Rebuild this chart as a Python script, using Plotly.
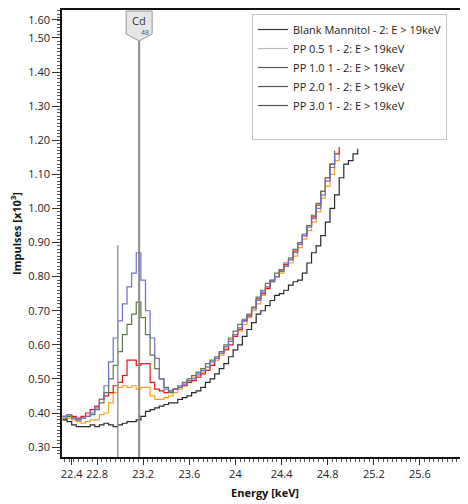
import numpy as np
import plotly.graph_objects as go

# ---------------- data ----------------
E_START = 22.50
E_STEP = 0.04

blank_mannitol = [0.38, 0.375, 0.365, 0.36, 0.36, 0.36, 0.365, 0.36, 0.365, 0.37,
                  0.365, 0.36, 0.365, 0.37, 0.375, 0.375, 0.38, 0.39, 0.405, 0.41,
                  0.415, 0.42, 0.425, 0.43, 0.43, 0.44, 0.445, 0.45, 0.46, 0.465,
                  0.475, 0.49, 0.50, 0.515, 0.53, 0.545, 0.565, 0.585, 0.60, 0.625,
                  0.645, 0.665, 0.69, 0.70, 0.715, 0.73, 0.745, 0.75, 0.76, 0.775,
                  0.785, 0.79, 0.81, 0.84, 0.87, 0.89, 0.92, 0.96, 1.00, 1.04,
                  1.09, 1.13, 1.14, 1.16, 1.175]

pp_05 = [0.38, 0.385, 0.38, 0.375, 0.37, 0.375, 0.38, 0.38, 0.395, 0.40,
         0.43, 0.46, 0.475, 0.48, 0.475, 0.48, 0.47, 0.475, 0.475, 0.45,
         0.44, 0.44, 0.445, 0.45, 0.46,
         0.47, 0.48, 0.49, 0.505, 0.51, 0.52, 0.535, 0.54, 0.555, 0.57,
         0.59, 0.615, 0.63, 0.64, 0.66, 0.68, 0.70, 0.72, 0.745, 0.77,
         0.79, 0.80, 0.81, 0.83, 0.84, 0.86, 0.885, 0.91, 0.935, 0.96,
         0.99, 1.03, 1.065, 1.10, 1.14, 1.17]

pp_10 = [0.39, 0.395, 0.39, 0.385, 0.39, 0.40, 0.41, 0.42, 0.44, 0.45,
         0.46, 0.48, 0.49, 0.51, 0.555, 0.555, 0.54, 0.545, 0.545, 0.49,
         0.47, 0.465, 0.46, 0.465, 0.47,
         0.475, 0.48, 0.49, 0.495, 0.505, 0.515, 0.525, 0.54, 0.56, 0.575,
         0.585, 0.60, 0.625, 0.645, 0.67, 0.685, 0.71, 0.735, 0.75, 0.765,
         0.785, 0.80, 0.82, 0.835, 0.85, 0.875, 0.895, 0.92, 0.95, 0.975,
         1.01, 1.05, 1.09, 1.13, 1.16, 1.18]

pp_20 = [0.385, 0.39, 0.385, 0.38, 0.385, 0.39, 0.395, 0.41, 0.43, 0.46,
         0.50, 0.54, 0.58, 0.63, 0.66, 0.69, 0.725, 0.68, 0.63, 0.57,
         0.53, 0.50, 0.475, 0.46, 0.47,
         0.48, 0.49, 0.50, 0.51, 0.52, 0.53, 0.545, 0.555, 0.565, 0.58,
         0.60, 0.62, 0.64, 0.66, 0.675, 0.69, 0.71, 0.74, 0.76, 0.78,
         0.79, 0.81, 0.82, 0.84, 0.855, 0.88, 0.90, 0.925, 0.95, 0.98,
         1.015, 1.05, 1.09, 1.13, 1.17]

pp_30 = [0.39, 0.395, 0.385, 0.38, 0.385, 0.39, 0.40, 0.415, 0.44, 0.48,
         0.55, 0.62, 0.67, 0.72, 0.77, 0.81, 0.87, 0.79, 0.70, 0.62,
         0.56, 0.50, 0.47, 0.465, 0.47,
         0.475, 0.485, 0.495, 0.50, 0.515, 0.525, 0.535, 0.55, 0.56, 0.575,
         0.595, 0.61, 0.63, 0.65, 0.67, 0.685, 0.705, 0.73, 0.755, 0.77,
         0.785, 0.80, 0.815, 0.83, 0.85, 0.87, 0.895, 0.92, 0.945, 0.97,
         1.00, 1.04, 1.08, 1.12, 1.16]

series_names = ["Blank Mannitol - 2: E > 19keV", "PP 0.5 1 - 2: E > 19keV",
                "PP 1.0 1 - 2: E > 19keV", "PP 2.0 1 - 2: E > 19keV",
                "PP 3.0 1 - 2: E > 19keV"]
series_values = [blank_mannitol, pp_05, pp_10, pp_20, pp_30]
series_colors = ["#2a2a2a", "#f5a21b", "#e8141c", "#5f7a45", "#6f6fcf"]
legend_colors = ["#3a3a3a", "#b8b8b8", "#555555", "#555555", "#555555"]

cd_energy = 23.165
cd_label = "Cd"
cd_z = "48"
marker2_energy = 22.98
marker2_height = 0.892

x_ticks = [22.58, 22.8, 23.2, 23.6, 24.0, 24.4, 24.8, 25.2, 25.6, 26.0]
x_ticktext = ["22.4", "22.8", "23.2", "23.6", "24", "24.4", "24.8", "25.2", "25.6", "26"]
y_ticks = [0.30, 0.40, 0.50, 0.60, 0.70, 0.80, 0.90, 1.00, 1.10, 1.20, 1.30, 1.40, 1.50, 1.553]
y_ticktext = ["0.30", "0.40", "0.50", "0.60", "0.70", "0.80", "0.90", "1.00", "1.10",
              "1.20", "1.30", "1.40", "1.50", "1.60"]

X_RANGE = [22.496, 26.017]
Y_RANGE = [0.271, 1.582]

FONT = "Open Sans"

# ---------------- figure ----------------
fig = go.Figure()

draw_order = [1, 2, 3, 4, 0]
for k in draw_order:
    vals = series_values[k]
    energies = np.round(E_START + E_STEP * np.arange(len(vals)), 3)
    fig.add_trace(go.Scatter(
        x=energies, y=vals, mode="lines", line_shape="hv",
        line=dict(color=series_colors[k], width=1.2),
        showlegend=False, hoverinfo="skip"))

for name, col in zip(series_names, legend_colors):
    fig.add_trace(go.Scatter(x=[None], y=[None], mode="lines", name=name,
                             line=dict(color=col, width=1.2)))
fig.add_trace(go.Scatter(x=[None], y=[None], mode="lines", name=" ",
                         line=dict(color="rgba(0,0,0,0)", width=1)))

# marker lines
fig.add_shape(type="line", xref="x", yref="y", x0=marker2_energy, x1=marker2_energy,
              y0=Y_RANGE[0], y1=marker2_height, line=dict(color="#9a9a9a", width=1.5))
fig.add_shape(type="line", xref="x", yref="y", x0=cd_energy, x1=cd_energy,
              y0=Y_RANGE[0], y1=1.492, line=dict(color="#8c8c8c", width=2))
# Cd label box
fig.add_shape(type="path", xref="x", yref="y", xsizemode="pixel", ysizemode="pixel",
              xanchor=cd_energy, yanchor=Y_RANGE[1],
              path="M -13,-1 L 13,-1 L 13,-24 L 0,-31 L -13,-24 Z",
              fillcolor="#e6e6e6", line=dict(color="#9a9a9a", width=1))
fig.add_annotation(x=cd_energy, y=Y_RANGE[1], xref="x", yref="y", text=cd_label,
                   showarrow=False, yanchor="top", yshift=-1, xshift=0,
                   font=dict(family=FONT, size=11, color="#333333"))
fig.add_annotation(x=cd_energy, y=Y_RANGE[1], xref="x", yref="y", text=cd_z,
                   showarrow=False, yanchor="top", yshift=-16, xshift=6,
                   font=dict(family=FONT, size=7, color="#555555"))

# the page body adds an 8 px offset, so the figure is sized to fill the rest
fig.update_layout(
    width=460, height=496,
    margin=dict(l=54, r=0, t=2, b=47),
    paper_bgcolor="white", plot_bgcolor="white",
    font=dict(family=FONT, size=11, color="#222222"),
    legend=dict(x=0.468, y=0.991, xanchor="left", yanchor="top",
                bgcolor="white", bordercolor="#c4c4c4", borderwidth=1,
                font=dict(family=FONT, size=11, color="#222222"),
                tracegroupgap=0),
    xaxis=dict(range=X_RANGE, showgrid=False, zeroline=False, automargin=False,
               showline=True, linecolor="#111111", linewidth=1.5, mirror=True,
               tickmode="array", tickvals=x_ticks, ticktext=x_ticktext,
               ticks="outside", ticklen=6, tickcolor="#333333",
               ticklabeloverflow="allow",
               minor=dict(dtick=0.04, tick0=22.4, ticks="outside", ticklen=3, tickcolor="#555555"),
               tickfont=dict(family=FONT, size=11, color="#222222"),
               title=dict(text="<b>Energy [keV]</b>", standoff=9,
                          font=dict(family=FONT, size=11, color="#111111"))),
    yaxis=dict(range=Y_RANGE, showgrid=False, zeroline=False, automargin=False,
               showline=True, linecolor="#111111", linewidth=1.5, mirror=False,
               tickmode="array", tickvals=y_ticks, ticktext=y_ticktext,
               ticks="outside", ticklen=8, tickcolor="#333333",
               minor=dict(dtick=0.01, tick0=0.3, ticks="outside", ticklen=3, tickcolor="#555555"),
               tickfont=dict(family=FONT, size=11, color="#222222"),
               title=dict(text="<b>Impulses [x10<sup>3</sup>]</b>", standoff=8,
                          font=dict(family=FONT, size=11, color="#111111"))),
)

fig.write_html("out.html")
